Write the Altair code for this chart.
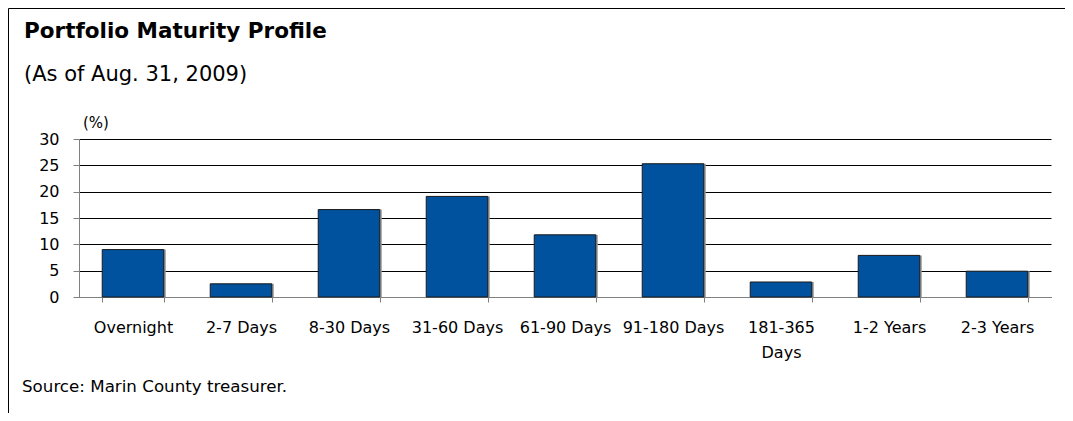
import altair as alt
import pandas as pd

categories = ["Overnight", "2-7 Days", "8-30 Days", "31-60 Days", "61-90 Days",
              "91-180 Days", "181-365 Days", "1-2 Years", "2-3 Years"]
values = [9.0, 2.5, 16.6, 19.1, 11.8, 25.3, 2.85, 7.9, 4.9]
y_ticks = [0, 5, 10, 15, 20, 25, 30]

title_text = "Portfolio Maturity Profile"
subtitle_text = "(As of Aug. 31, 2009)"
unit_text = "(%)"
source_text = "Source: Marin County treasurer."

FONT = "DejaVu Sans"
W, H = 972, 158

df = pd.DataFrame({"cat": categories, "val": values})

xscale = alt.Scale(domain=categories, paddingInner=0.43, paddingOuter=0.215)
yscale = alt.Scale(domain=[0, 30], nice=False)

xaxis = alt.Axis(title=None, labelAngle=0, tickBand="extent",
                 domainColor="#808080", tickColor="#808080", tickSize=5,
                 labelPadding=17, labelFontSize=16, labelFont=FONT,
                 labelColor="#000000", labelLineHeight=25,
                 labelExpr="datum.label == '181-365 Days' ? ['181-365', 'Days'] : datum.label")
yaxis = alt.Axis(title=None, values=y_ticks, grid=True, gridColor="#000000",
                 gridWidth=1, domainColor="#808080", tickColor="#808080",
                 tickSize=6, labelPadding=14, labelFontSize=16, labelFont=FONT,
                 labelColor="#000000")

base = alt.Chart(df)

shadow = base.mark_bar(color="#9a9a9a").encode(
    x=alt.X("cat:N", scale=xscale, sort=categories, axis=xaxis),
    y=alt.Y("val:Q", scale=yscale, axis=yaxis),
    xOffset=alt.value(2),
)

bars = base.mark_bar(color="#00529F", stroke="#1b1b1b", strokeWidth=1).encode(
    x=alt.X("cat:N", scale=xscale, sort=categories, axis=xaxis),
    y=alt.Y("val:Q", scale=yscale, axis=yaxis),
)

def label(txt, x, y, size, weight="normal", align="left"):
    return alt.Chart(pd.DataFrame({"t": [txt]})).mark_text(
        align=align, baseline="middle", fontSize=size, font=FONT,
        fontWeight=weight, color="#000000"
    ).encode(text="t:N", x=alt.value(x), y=alt.value(y))

frame_left = alt.Chart(pd.DataFrame({"a": [0]})).mark_rule(color="#000000", strokeWidth=1).encode(
    x=alt.value(-70.5), y=alt.value(-130.5), y2=alt.value(274))
frame_top = alt.Chart(pd.DataFrame({"a": [0]})).mark_rule(color="#000000", strokeWidth=1).encode(
    x=alt.value(-70.5), x2=alt.value(1000), y=alt.value(-130.5))

chart = alt.layer(
    shadow, bars,
    label(title_text, -55, -107, 21.5, "bold"),
    label(subtitle_text, -55, -64, 21),
    label(unit_text, 17, -16, 15, align="center"),
    label(source_text, -57, 248, 16.7),
    frame_left, frame_top,
).properties(
    width=W, height=H,
    autosize=alt.AutoSizeParams(type="none"),
    padding={"left": 71, "top": 131, "right": 14, "bottom": 116},
).configure_view(stroke=None)

chart.save("out.html", embed_options={"renderer": "svg", "actions": False})
